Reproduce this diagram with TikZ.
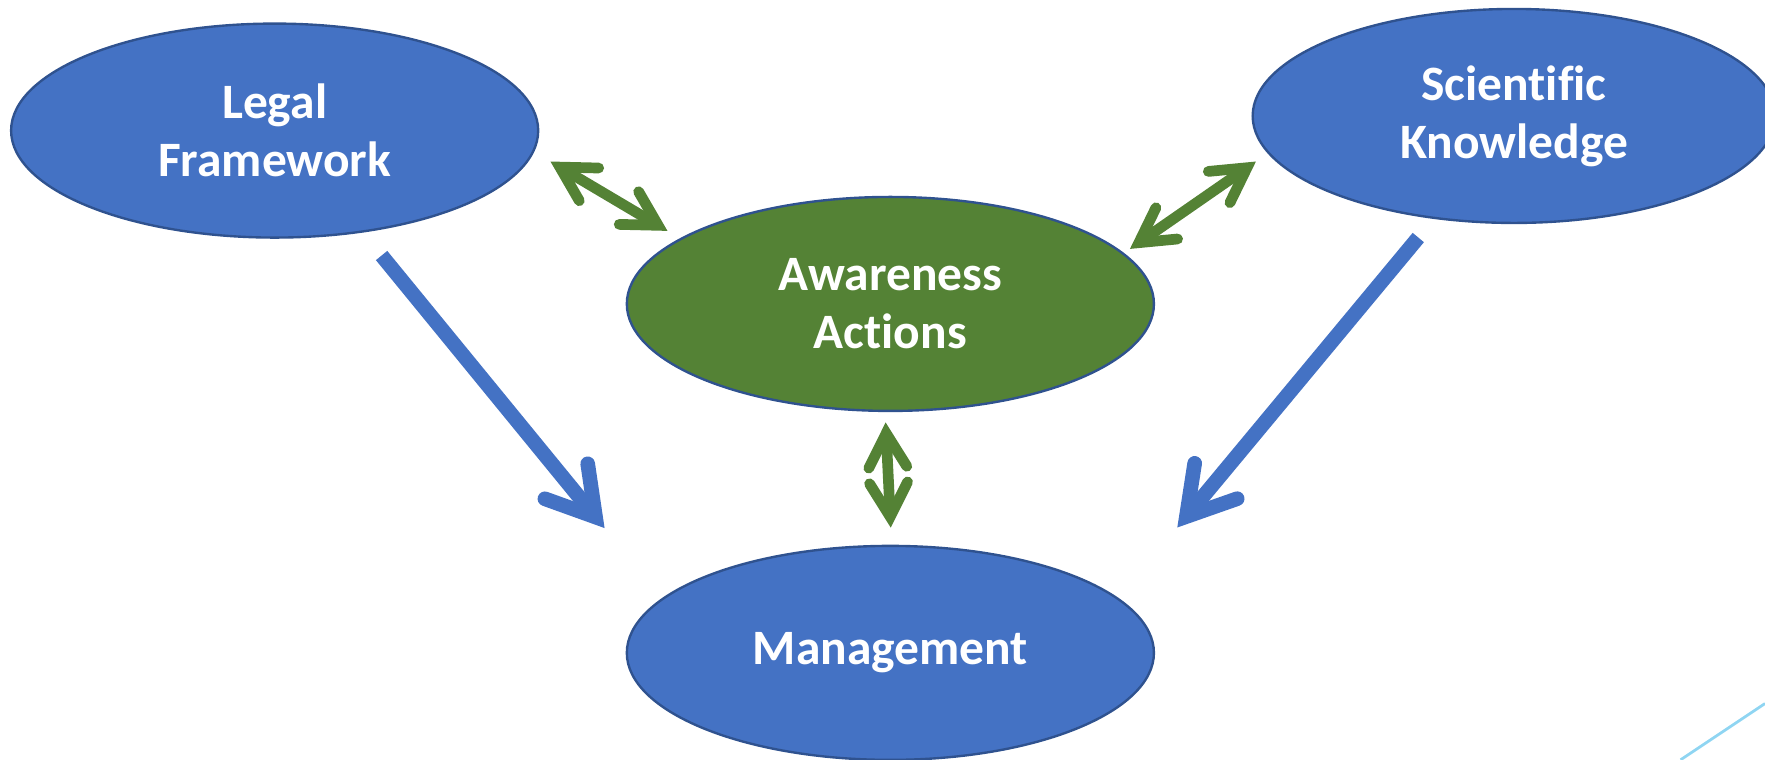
\documentclass[tikz,border=0pt]{standalone}
\usepackage{fontspec}
\setmainfont{Carlito}[Ligatures=NoCommon]
\usetikzlibrary{shapes.geometric,calc}
\definecolor{pblue}{HTML}{4472C4}
\definecolor{pborder}{HTML}{2F528F}
\definecolor{pgreen}{HTML}{548235}
\definecolor{plight}{HTML}{8FD5F2}
% #1 tip, #2 point the arrow comes from, #3 offset of the vertex, #4 arm length, #5 half angle, #6 style
\newcommand\mychevron[6]{%
  \path ($(#1)!#3!(#2)$) coordinate (cv);
  \draw[#6, line cap=round, line join=miter] ($(cv)!#4!#5:(#2)$) -- (cv) -- ($(cv)!#4!-#5:(#2)$);
}
\begin{document}
\begin{tikzpicture}[x=0.01cm,y=-0.01cm,
  oval/.style={ellipse, draw=pborder, line width=0.6pt, minimum width=4.68cm, minimum height=1.9cm,
    inner sep=0pt, text=white, font=\bfseries\fontsize{12.5}{14.6}\selectfont, align=center},
  bluel/.style={draw=pblue, line width=0.13cm},
  greenl/.style={draw=pgreen, line width=0.095cm}]
\useasboundingbox (0,0) rectangle (1568,675);
\node[oval, fill=pblue] (legal) at (244,116) {Legal\\Framework};
\node[oval, fill=pblue, minimum width=4.64cm] (sci) at (1345,103) {Scientific\\Knowledge};
\node[oval, fill=pgreen] (aware) at (791,270) {Awareness\\Actions};
\node[oval, fill=pblue] (mgmt) at (791,580) {Management};
% blue connectors
\coordinate (lfS) at (339,227);
\coordinate (lfT) at (537,469);
\coordinate (skS) at (1260,211);
\coordinate (skT) at (1046,468.5);
\draw[bluel] (lfS) -- ($(lfT)!0.125cm!(lfS)$);
\mychevron{lfT}{lfS}{0.125cm}{0.478cm}{30.9}{bluel}
\draw[bluel] (skS) -- ($(skT)!0.125cm!(skS)$);
\mychevron{skT}{skS}{0.125cm}{0.478cm}{30.9}{bluel}
% green connectors
\coordinate (gaA) at (489.2,143.6);
\coordinate (gaB) at (592.8,205);
\coordinate (gbA) at (1004,221);
\coordinate (gbB) at (1115.6,143.6);
\coordinate (gcA) at (786.8,375.5);
\coordinate (gcB) at (791.3,468.5);
\foreach \a/\b in {gaA/gaB, gbA/gbB, gcA/gcB}{
  \draw[greenl] ($(\a)!0.095cm!(\b)$) -- ($(\b)!0.095cm!(\a)$);
  \mychevron{\a}{\b}{0.095cm}{0.345cm}{29.3}{greenl}
  \mychevron{\b}{\a}{0.095cm}{0.345cm}{29.3}{greenl}
}
% light decorative line
\coordinate (dlA) at (1493,675);
\coordinate (dlB) at (1568,625);
\draw[plight, line width=0.7pt] (dlA) -- (dlB);
\end{tikzpicture}
\end{document}
